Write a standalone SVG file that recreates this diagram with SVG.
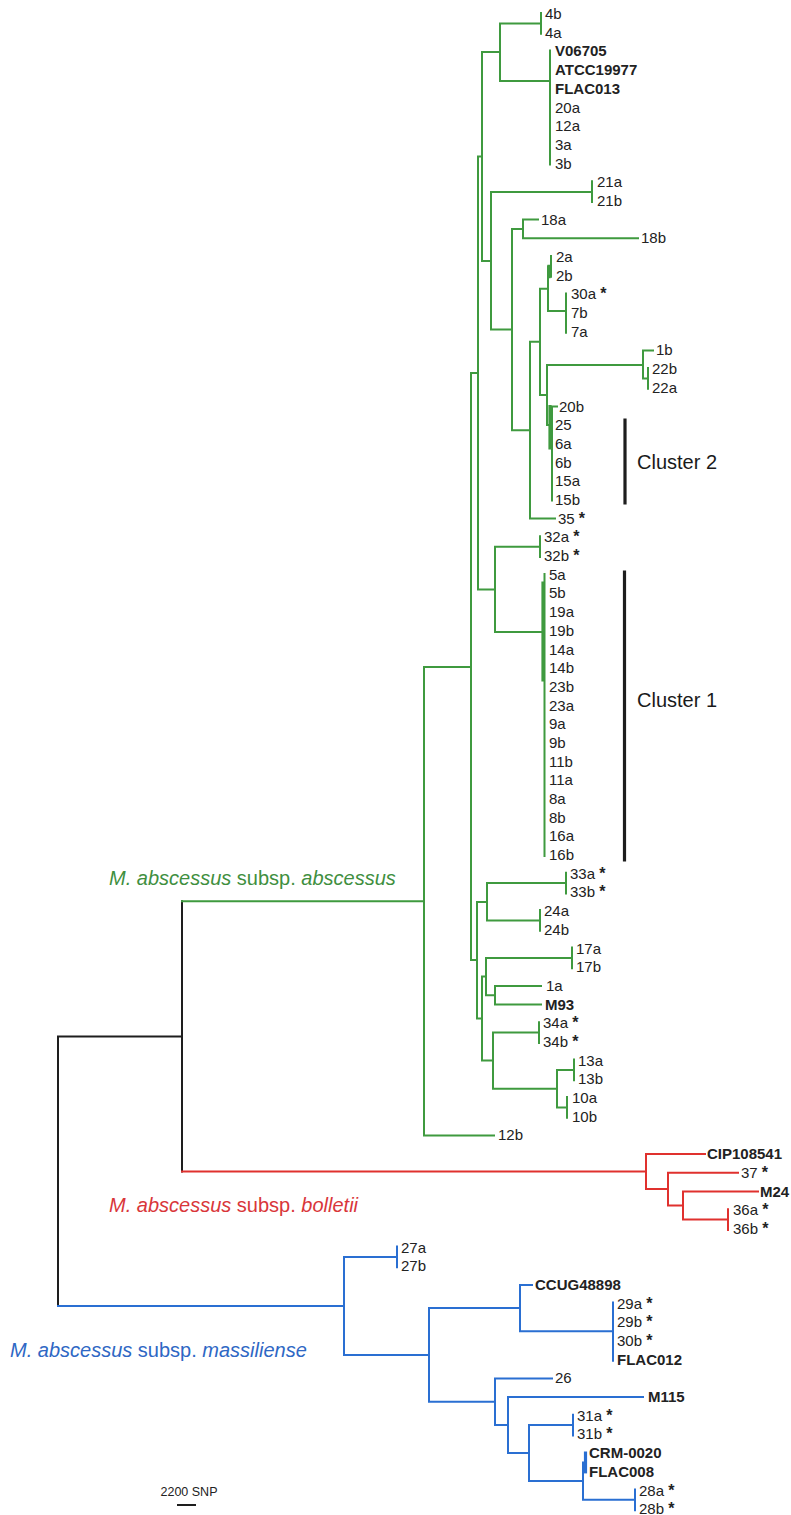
<svg xmlns="http://www.w3.org/2000/svg" width="791" height="1515" viewBox="0 0 791 1515">
<style>
.e{fill:none;stroke-width:2;stroke-linecap:square}
.g{stroke:#3f9a3f}.r{stroke:#e0312e}.b{stroke:#2a6fd2}.k{stroke:#1e1e1e}
.t{stroke-width:3.2}
text{font-family:"Liberation Sans",Arial,sans-serif;font-size:15px;fill:#222}
.bd{font-weight:bold}
.s{font-weight:bold;font-size:16px}
.sp{font-size:20px}
.cl{font-size:20px;fill:#1a1a1a}
</style>
<rect width="791" height="1515" fill="#fff"/>
<g id="connectors">
<path class="e k" d="M182,901.2V1171.5M58,1036.4H182M58,1036.4V1306"/>
<path class="e g" d="M182,901.2H424M424,667V1135.4M424,1135.4H494M424,667H471M471,373V960M471,373H478M478,156.5V589.4M478,156.5H482M482,52V261M482,52H500M500,23.4V81M500,23.4H541M541,13V33.7M500,81H550M550,50.4V164.5M482,261H491M491,192V329.6M491,192H592M592,181.2V201.9M491,329.6H512M512,229V430.2M512,229H523M523,219.6V238.3M523,219.6H538M523,238.3H638M512,430.2H530M530,341.8V518.6M530,518.6H555M530,341.8H540M540,288.7V395M540,288.7H548M548,266.4V311M548,311H566M566,293.4V332.7M551,256V276.7M540,395H547M547,365V425M547,365H643M643,350.4V378.5M643,350.4H653M643,378.5H648M648,368.1V388.8M547,425H550M552,406.5V500.5M552,406.5H557M478,589.4H495M495,546.7V632M495,546.7H540M540,536.3V557M495,632H543M544.5,574V856M471,960H477M477,902V1018.6M477,902H487M487,883V920.5M487,883H566M566,872.7V893.4M487,920.5H540M540,910.1V930.8M477,1018.6H482M482,976.6V1060.6M482,976.6H486M486,958V995.3M486,958H572M572,947.5V968.2M486,995.3H495M495,985.9V1004.6M495,985.9H541M495,1004.6H541M482,1060.6H493M493,1032.6V1088.7M493,1032.6H539M539,1022.3V1043M493,1088.7H557M557,1070V1107.4M557,1070H574M574,1059.6V1080.3M557,1107.4H567M567,1097V1117.7"/>
<path class="e g t" d="M549,266.4V276.7M550,406.5V448M543,583V680"/>
<path class="e r" d="M182,1171.5H646M646,1154.1V1189M646,1154.1H705M646,1189H668M668,1172.8V1205.5M668,1172.8H738M668,1205.5H683M683,1191.5V1219.6M683,1191.5H758M683,1219.6H728M728,1209.2V1229.9"/>
<path class="e b" d="M58,1306H344M344,1256.9V1354.9M344,1256.9H397M397,1246.5V1267.2M344,1354.9H429M429,1308V1401.7M429,1308H520M520,1284.9V1331.3M520,1284.9H532M520,1331.3H613M613,1302.6V1360.7M429,1401.7H495M495,1378.4V1425M495,1378.4H552M495,1425H508M508,1397.1V1453M508,1397.1H643M508,1453H529M529,1425.1V1481M529,1425.1H573M573,1414.8V1435.4M529,1481H583M583,1462.5V1499.8M583,1462.5H585M583,1499.8H635M635,1489.5V1510.2"/>
<path class="e b t" d="M585.5,1453.1V1471.8"/>
<path class="e k t" d="M625,420V503M624.5,572V860"/>
<path class="e k" d="M178,1505H195"/>
</g>
<g id="leaves-abscessus">
<g id="n4b"><text x="545" y="19">4b</text></g>
<g id="n4a"><text x="545" y="37.7">4a</text></g>
<g id="nV06705"><text class="bd" x="555" y="56.4">V06705</text></g>
<g id="nATCC19977"><text class="bd" x="555" y="75.1">ATCC19977</text></g>
<g id="nFLAC013"><text class="bd" x="555" y="93.8">FLAC013</text></g>
<g id="n20a"><text x="555" y="112.5">20a</text></g>
<g id="n12a"><text x="555" y="131.1">12a</text></g>
<g id="n3a"><text x="555" y="149.8">3a</text></g>
<g id="n3b"><text x="555" y="168.5">3b</text></g>
<g id="n21a"><text x="597" y="187.2">21a</text></g>
<g id="n21b"><text x="597" y="205.9">21b</text></g>
<g id="n18a"><text x="541" y="224.6">18a</text></g>
<g id="n18b"><text x="641" y="243.3">18b</text></g>
<g id="n2a"><text x="556" y="262">2a</text></g>
<g id="n2b"><text x="556" y="280.7">2b</text></g>
<g id="n30a"><text x="571" y="299.4">30a <tspan class="s">*</tspan></text></g>
<g id="n7b"><text x="571" y="318">7b</text></g>
<g id="n7a"><text x="571" y="336.7">7a</text></g>
<g id="n1b"><text x="656" y="355.4">1b</text></g>
<g id="n22b"><text x="652" y="374.1">22b</text></g>
<g id="n22a"><text x="652" y="392.8">22a</text></g>
<g id="n20b"><text x="559" y="411.5">20b</text></g>
<g id="n25"><text x="555" y="430.2">25</text></g>
<g id="n6a"><text x="555" y="448.9">6a</text></g>
<g id="n6b"><text x="555" y="467.6">6b</text></g>
<g id="n15a"><text x="555" y="486.3">15a</text></g>
<g id="n15b"><text x="555" y="505">15b</text></g>
<g id="n35"><text x="558" y="523.6">35 <tspan class="s">*</tspan></text></g>
<g id="n32a"><text x="544" y="542.3">32a <tspan class="s">*</tspan></text></g>
<g id="n32b"><text x="544" y="561">32b <tspan class="s">*</tspan></text></g>
<g id="n5a"><text x="549" y="579.7">5a</text></g>
<g id="n5b"><text x="549" y="598.4">5b</text></g>
<g id="n19a"><text x="549" y="617.1">19a</text></g>
<g id="n19b"><text x="549" y="635.8">19b</text></g>
<g id="n14a"><text x="549" y="654.5">14a</text></g>
<g id="n14b"><text x="549" y="673.2">14b</text></g>
<g id="n23b"><text x="549" y="691.8">23b</text></g>
<g id="n23a"><text x="549" y="710.5">23a</text></g>
<g id="n9a"><text x="549" y="729.2">9a</text></g>
<g id="n9b"><text x="549" y="747.9">9b</text></g>
<g id="n11b"><text x="549" y="766.6">11b</text></g>
<g id="n11a"><text x="549" y="785.3">11a</text></g>
<g id="n8a"><text x="549" y="804">8a</text></g>
<g id="n8b"><text x="549" y="822.7">8b</text></g>
<g id="n16a"><text x="549" y="841.4">16a</text></g>
<g id="n16b"><text x="549" y="860.1">16b</text></g>
<g id="n33a"><text x="570" y="878.7">33a <tspan class="s">*</tspan></text></g>
<g id="n33b"><text x="570" y="897.4">33b <tspan class="s">*</tspan></text></g>
<g id="n24a"><text x="544" y="916.1">24a</text></g>
<g id="n24b"><text x="544" y="934.8">24b</text></g>
<g id="n17a"><text x="576" y="953.5">17a</text></g>
<g id="n17b"><text x="576" y="972.2">17b</text></g>
<g id="n1a"><text x="546" y="990.9">1a</text></g>
<g id="nM93"><text class="bd" x="545" y="1009.6">M93</text></g>
<g id="n34a"><text x="543" y="1028.3">34a <tspan class="s">*</tspan></text></g>
<g id="n34b"><text x="543" y="1047">34b <tspan class="s">*</tspan></text></g>
<g id="n13a"><text x="578" y="1065.6">13a</text></g>
<g id="n13b"><text x="578" y="1084.3">13b</text></g>
<g id="n10a"><text x="572" y="1103">10a</text></g>
<g id="n10b"><text x="572" y="1121.7">10b</text></g>
<g id="n12b"><text x="498" y="1140.4">12b</text></g>
</g>
<g id="leaves-bolletii">
<g id="nCIP108541"><text class="bd" x="707" y="1159.1">CIP108541</text></g>
<g id="n37"><text x="741" y="1177.8">37 <tspan class="s">*</tspan></text></g>
<g id="nM24"><text class="bd" x="760" y="1196.5">M24</text></g>
<g id="n36a"><text x="733" y="1215.2">36a <tspan class="s">*</tspan></text></g>
<g id="n36b"><text x="733" y="1233.9">36b <tspan class="s">*</tspan></text></g>
</g>
<g id="leaves-massiliense">
<g id="n27a"><text x="401" y="1252.5">27a</text></g>
<g id="n27b"><text x="401" y="1271.2">27b</text></g>
<g id="nCCUG48898"><text class="bd" x="535" y="1289.9">CCUG48898</text></g>
<g id="n29a"><text x="617" y="1308.6">29a <tspan class="s">*</tspan></text></g>
<g id="n29b"><text x="617" y="1327.3">29b <tspan class="s">*</tspan></text></g>
<g id="n30b"><text x="617" y="1346">30b <tspan class="s">*</tspan></text></g>
<g id="nFLAC012"><text class="bd" x="617" y="1364.7">FLAC012</text></g>
<g id="n26"><text x="555" y="1383.4">26</text></g>
<g id="nM115"><text class="bd" x="648" y="1402.1">M115</text></g>
<g id="n31a"><text x="577" y="1420.8">31a <tspan class="s">*</tspan></text></g>
<g id="n31b"><text x="577" y="1439.4">31b <tspan class="s">*</tspan></text></g>
<g id="nCRM-0020"><text class="bd" x="589" y="1458.1">CRM-0020</text></g>
<g id="nFLAC008"><text class="bd" x="589" y="1476.8">FLAC008</text></g>
<g id="n28a"><text x="639" y="1495.5">28a <tspan class="s">*</tspan></text></g>
<g id="n28b"><text x="639" y="1514.2">28b <tspan class="s">*</tspan></text></g>
</g>
<g id="clade-labels">
<text class="sp" x="109" y="885" style="fill:#3f8f3f"><tspan font-style="italic">M. abscessus</tspan> subsp. <tspan font-style="italic">abscessus</tspan></text>
<text class="sp" x="109" y="1212" style="fill:#d9363a"><tspan font-style="italic">M. abscessus</tspan> subsp. <tspan font-style="italic">bolletii</tspan></text>
<text class="sp" x="10" y="1357" style="fill:#2e67c4"><tspan font-style="italic">M. abscessus</tspan> subsp. <tspan font-style="italic">massiliense</tspan></text>
</g>
<g id="clusters">
<text class="cl" x="637" y="469">Cluster 2</text>
<text class="cl" x="637" y="707">Cluster 1</text>
</g>
<g id="scale">
<text x="189" y="1496" text-anchor="middle" style="font-size:12.5px">2200 SNP</text>
</g>
</svg>
